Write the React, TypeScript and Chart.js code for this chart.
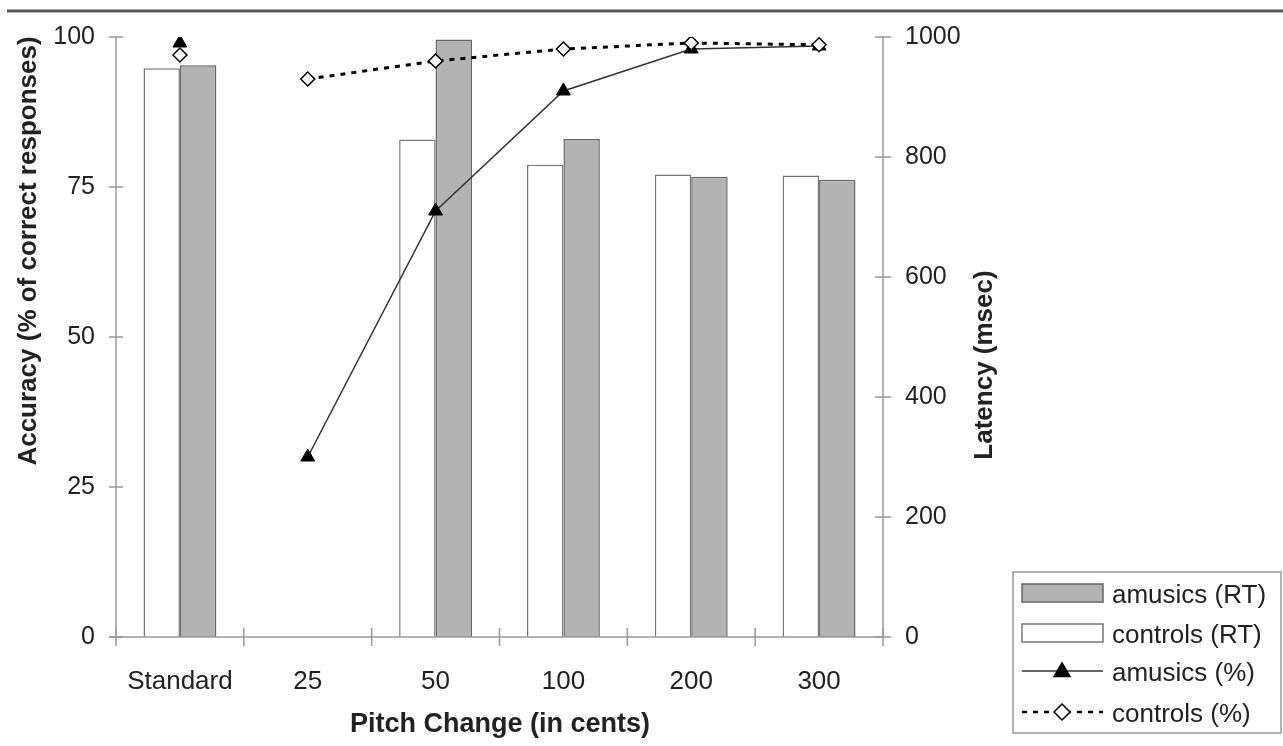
import React, { useEffect, useRef } from "react";
import { Chart, registerables } from "chart.js";

Chart.register(...registerables);

const categories = ["Standard", "25", "50", "100", "200", "300"];
const controlsRT = [948, null, 829, 787, 771, 769];
const amusicsRT = [953, null, 996, 830, 767, 762];
const amusicsPct = [99, 30, 71, 91, 98, 98.5];
const controlsPct = [97, 93, 96, 98, 99, 98.7];
const accuracyRange = [0, 100, 25];
const latencyRange = [0, 1000, 200];

const FONT = '"Liberation Sans", Arial, sans-serif';
const TEXT = "#222";
const AXIS = "#9a9a9a";

const decorPlugin = {
  id: "decor",
  afterDraw(chart: any) {
    const ctx = chart.ctx as CanvasRenderingContext2D;
    const area = chart.chartArea;
    const x = chart.scales.x;
    const y = chart.scales.y;
    const y1 = chart.scales.y1;
    ctx.save();
    // top rule
    ctx.strokeStyle = "#555";
    ctx.lineWidth = 3;
    ctx.beginPath();
    ctx.moveTo(7, 11);
    ctx.lineTo(1283, 11);
    ctx.stroke();

    // axes
    ctx.strokeStyle = AXIS;
    ctx.lineWidth = 1.5;
    ctx.beginPath();
    ctx.moveTo(area.left, area.top);
    ctx.lineTo(area.left, area.bottom);
    ctx.moveTo(area.right, area.top);
    ctx.lineTo(area.right, area.bottom);
    ctx.moveTo(area.left - 7, area.bottom);
    ctx.lineTo(area.right, area.bottom);
    ctx.stroke();

    ctx.beginPath();
    y.ticks.forEach((t: any) => {
      const py = y.getPixelForValue(t.value);
      ctx.moveTo(area.left - 7, py);
      ctx.lineTo(area.left + 7, py);
    });
    y1.ticks.forEach((t: any) => {
      const py = y1.getPixelForValue(t.value);
      ctx.moveTo(area.right - 8, py);
      ctx.lineTo(area.right + 8, py);
    });
    const n = categories.length;
    for (let i = 0; i <= n; i++) {
      let px: number;
      if (i === 0) px = area.left;
      else if (i === n) px = area.right;
      else px = (x.getPixelForValue(i - 1) + x.getPixelForValue(i)) / 2;
      ctx.moveTo(px, area.bottom - 9);
      ctx.lineTo(px, area.bottom + 9);
    }
    ctx.stroke();

    // axis titles
    ctx.fillStyle = TEXT;
    ctx.textAlign = "center";
    ctx.textBaseline = "middle";
    ctx.font = `bold 27px ${FONT}`;
    ctx.fillText("Pitch Change (in cents)", 500, 725);

    ctx.font = `bold 26px ${FONT}`;
    ctx.save();
    ctx.translate(29, 251);
    ctx.rotate(-Math.PI / 2);
    ctx.fillText("Accuracy (% of correct responses)", 0, 0);
    ctx.restore();

    ctx.save();
    ctx.translate(985, 365);
    ctx.rotate(-Math.PI / 2);
    ctx.fillText("Latency (msec)", 0, 0);
    ctx.restore();

    // legend
    ctx.strokeStyle = "#999";
    ctx.lineWidth = 1.5;
    ctx.strokeRect(1013, 572, 268, 161);
    const ds = chart.data.datasets;
    const rows = [
      { d: ds[1], y: 593 },
      { d: ds[0], y: 633 },
      { d: ds[2], y: 671 },
      { d: ds[3], y: 712 },
    ];
    rows.forEach((r) => {
      const d: any = r.d;
      if (d.type === "bar") {
        ctx.fillStyle = d.backgroundColor;
        ctx.strokeStyle = d.borderColor;
        ctx.lineWidth = 1.5;
        ctx.fillRect(1022, r.y - 9, 81, 18);
        ctx.strokeRect(1022, r.y - 9, 81, 18);
      } else {
        ctx.strokeStyle = d.borderColor;
        ctx.lineWidth = d.label.startsWith("controls") ? 2.5 : 1.5;
        ctx.setLineDash(d.borderDash || []);
        ctx.beginPath();
        ctx.moveTo(1022, r.y);
        ctx.lineTo(1103, r.y);
        ctx.stroke();
        ctx.setLineDash([]);
        ctx.fillStyle = d.pointBackgroundColor;
        ctx.strokeStyle = d.pointBorderColor;
        ctx.lineWidth = 1.5;
        ctx.beginPath();
        const cx = 1062;
        const rr = 8;
        if (d.pointStyle === "triangle") {
          ctx.moveTo(cx, r.y - rr);
          ctx.lineTo(cx + rr, r.y + rr * 0.7);
          ctx.lineTo(cx - rr, r.y + rr * 0.7);
        } else {
          ctx.moveTo(cx, r.y - rr);
          ctx.lineTo(cx + rr, r.y);
          ctx.lineTo(cx, r.y + rr);
          ctx.lineTo(cx - rr, r.y);
        }
        ctx.closePath();
        ctx.fill();
        ctx.stroke();
      }
      ctx.fillStyle = TEXT;
      ctx.font = `26px ${FONT}`;
      ctx.textAlign = "left";
      ctx.textBaseline = "middle";
      ctx.fillText(d.label, 1112, r.y + 3);
    });
    ctx.restore();
  },
};

export default function App() {
  const ref = useRef<HTMLCanvasElement | null>(null);
  useEffect(() => {
    if (!ref.current) return;
    const hideFirst = (color: string) => (c: any) =>
      c.p0DataIndex === 0 ? "rgba(0,0,0,0)" : color;
    const chart = new Chart(ref.current, {
      type: "bar",
      data: {
        labels: categories,
        datasets: [
          {
            type: "bar",
            label: "controls (RT)",
            data: controlsRT,
            yAxisID: "y1",
            backgroundColor: "#ffffff",
            borderColor: "#777777",
            borderWidth: 1.5,
            categoryPercentage: 0.57,
            barPercentage: 1,
            order: 2,
          },
          {
            type: "bar",
            label: "amusics (RT)",
            data: amusicsRT,
            yAxisID: "y1",
            backgroundColor: "#b3b3b3",
            borderColor: "#666666",
            borderWidth: 1.5,
            categoryPercentage: 0.57,
            barPercentage: 1,
            order: 2,
          },
          {
            type: "line",
            label: "amusics (%)",
            data: amusicsPct,
            yAxisID: "y",
            borderColor: "#333333",
            borderWidth: 1.5,
            pointStyle: "triangle",
            pointRadius: 8,
            pointBackgroundColor: "#000000",
            pointBorderColor: "#000000",
            pointBorderWidth: 1,
            tension: 0,
            segment: { borderColor: hideFirst("#333333") },
            order: 1,
          },
          {
            type: "line",
            label: "controls (%)",
            data: controlsPct,
            yAxisID: "y",
            borderColor: "#000000",
            borderWidth: 3,
            borderDash: [5, 6],
            pointStyle: "rectRot",
            pointRadius: 7,
            pointBackgroundColor: "#ffffff",
            pointBorderColor: "#000000",
            pointBorderWidth: 1.5,
            tension: 0,
            segment: { borderColor: hideFirst("#000000") },
            order: 0,
          },
        ] as any,
      },
      options: {
        animation: false,
        responsive: false,
        devicePixelRatio: 1,
        layout: { padding: { top: 35, left: 0, right: 0, bottom: 0 } },
        plugins: { legend: { display: false }, tooltip: { enabled: false } },
        scales: {
          x: {
            type: "category",
            offset: true,
            grid: { display: false, drawTicks: false },
            border: { display: false },
            ticks: { font: { family: FONT, size: 26 }, color: TEXT, padding: 29, maxRotation: 0 },
            afterFit: (s: any) => {
              s.height = 109;
            },
          },
          y: {
            position: "left",
            min: accuracyRange[0],
            max: accuracyRange[1],
            grid: { display: false, drawTicks: false },
            border: { display: false },
            ticks: {
              stepSize: accuracyRange[2],
              font: { family: FONT, size: 25 },
              color: TEXT,
              padding: 21,
              callback: (v: any) => String(v),
            },
            afterFit: (s: any) => {
              s.width = 116;
            },
          },
          y1: {
            position: "right",
            min: latencyRange[0],
            max: latencyRange[1],
            grid: { display: false, drawTicks: false },
            border: { display: false },
            ticks: {
              stepSize: latencyRange[2],
              font: { family: FONT, size: 25 },
              color: TEXT,
              padding: 22,
              callback: (v: any) => String(v),
            },
            afterFit: (s: any) => {
              s.width = 400;
            },
          },
        },
      } as any,
      plugins: [decorPlugin],
    });
    return () => chart.destroy();
  }, []);
  return (
    <div style={{ position: "fixed", left: 0, top: 0, width: 1283, height: 746, background: "#fff" }}>
      <canvas ref={ref} width={1283} height={746} />
    </div>
  );
}
